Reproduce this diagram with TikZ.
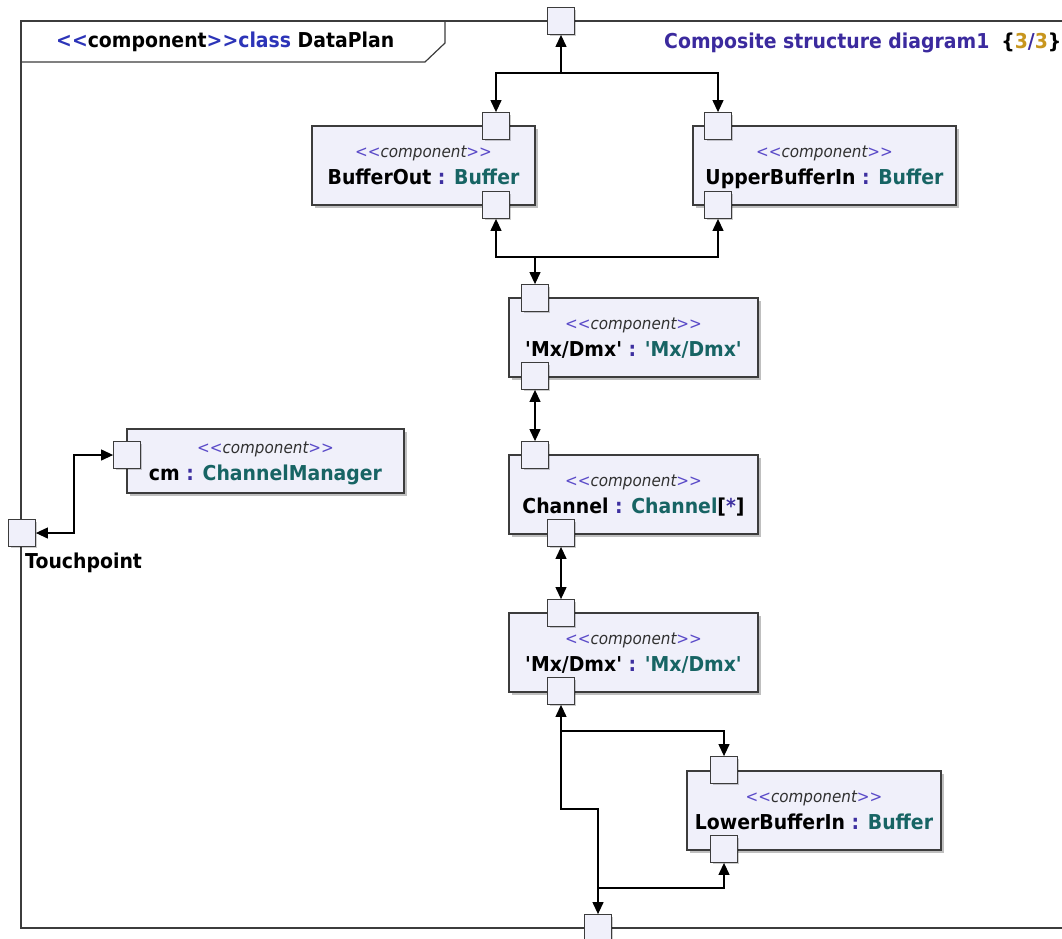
\documentclass[tikz,border=0pt]{standalone}
\usepackage{fontspec}
\setmainfont{DejaVu Sans}[Ligatures=TeXOff,FakeStretch=0.92]
\usepackage{xcolor}
\usetikzlibrary{arrows.meta,shadows}

\definecolor{linegray}{HTML}{3C3C3C}
\definecolor{boxfill}{HTML}{F0F0FA}
\definecolor{stpurple}{HTML}{5A4AC8}
\definecolor{stgray}{HTML}{303030}
\definecolor{colpurple}{HTML}{3D2FA0}
\definecolor{typeteal}{HTML}{176464}
\definecolor{ttlblue}{HTML}{2C34B8}
\definecolor{dgmpurple}{HTML}{3B2A9E}
\definecolor{numgold}{HTML}{C8961E}

\newcommand{\stereo}{{\fontsize{16.5}{27}\selectfont\itshape\textcolor{stpurple}{<<}\textcolor{stgray}{component}\textcolor{stpurple}{>>}}}
\newcommand{\cname}[2]{{\fontsize{20.5}{27}\selectfont\bfseries #1 \textcolor{colpurple}{:} \textcolor{typeteal}{#2}}}

\begin{document}
\begin{tikzpicture}[x=1pt,y=-1pt,
  comp/.style={draw=linegray,line width=1.3pt,fill=boxfill,minimum height=79pt,align=center,inner sep=0pt,
    text depth=0pt,font=\fontsize{16.5}{27}\selectfont,
    drop shadow={shadow xshift=3pt,shadow yshift=-3pt,fill=black,opacity=0.25}},
  port/.style={draw=linegray,line width=1.3pt,fill=boxfill,minimum size=26.5pt,inner sep=0pt,
    drop shadow={shadow xshift=2pt,shadow yshift=-2pt,fill=black,opacity=0.2}},
  arr/.style={line width=1.2pt,-{Triangle[length=12pt,width=11pt]}},
  arrs/.style={line width=1.2pt,{Triangle[length=12pt,width=11pt]}-{Triangle[length=12pt,width=11pt]}},
  frame/.style={line width=1.2pt,draw=linegray}]
\useasboundingbox (0,0) rectangle (1062,938);

% frame and title tab
\draw[frame] (1070,21) -- (21,21) -- (21,928) -- (1070,928);
\draw[frame] (21,62) -- (425,62) -- (445,43) -- (445,21);
\node[anchor=west,inner sep=0pt,font=\fontsize{20.5}{22}\selectfont\bfseries] (ttl) at (56,42)
  {\textcolor{ttlblue}{<<}component\textcolor{ttlblue}{>>class} DataPlan};
\node[anchor=west,inner sep=0pt,font=\fontsize{20.5}{22}\selectfont\bfseries] (dgm) at (664,43)
  {\textcolor{dgmpurple}{Composite structure diagram1}\hspace{12pt}\{\textcolor{numgold}{3}\textcolor{dgmpurple}{/}\textcolor{numgold}{3}\}};

% components
\node[comp,minimum width=223pt] (bufout) at (423.5,165.5) {\stereo\\\cname{BufferOut}{Buffer}};
\node[comp,minimum width=263pt] (upin) at (824.5,165.5) {\stereo\\\cname{UpperBufferIn}{Buffer}};
\node[comp,minimum width=249pt] (mxa) at (633.5,337.5) {\stereo\\\cname{'Mx/Dmx'}{'Mx/Dmx'}};
\node[comp,minimum width=249pt] (chan) at (633.5,494.5) {\stereo\\{\fontsize{20.5}{27}\selectfont\bfseries Channel \textcolor{colpurple}{:} \textcolor{typeteal}{Channel}[\textcolor{colpurple}{*}]}};
\node[comp,minimum width=249pt] (mxb) at (633.5,652.5) {\stereo\\\cname{'Mx/Dmx'}{'Mx/Dmx'}};
\node[comp,minimum width=254pt] (lowin) at (814,810.5) {\stereo\\\cname{LowerBufferIn}{Buffer}};
\node[comp,minimum width=277pt,minimum height=64pt] (cm) at (265.5,461) {\stereo\\\cname{cm}{ChannelManager}};

% ports
\node[port] (topP) at (561,21) {};
\node[port] (botP) at (598,928) {};
\node[port] (tp) at (22,533) {};
\node[anchor=west,inner sep=0pt,font=\fontsize{20.5}{22}\selectfont\bfseries] (tpl) at (25,563) {Touchpoint};
\node[port] (bufoutT) at (496,126) {};
\node[port] (bufoutB) at (496,205) {};
\node[port] (upinT) at (718,126) {};
\node[port] (upinB) at (718,205) {};
\node[port] (mxaT) at (535,298) {};
\node[port] (mxaB) at (535,376) {};
\node[port] (chanT) at (535,455) {};
\node[port] (chanB) at (561,533) {};
\node[port] (mxbT) at (561,613) {};
\node[port] (mxbB) at (561,691) {};
\node[port] (lowinT) at (724,770) {};
\node[port] (lowinB) at (724,849) {};
\node[port] (cmP) at (127,455) {};

% junctions
\coordinate (j1) at (561,73);
\coordinate (j2) at (535,257);
\coordinate (j3) at (561,731);
\coordinate (j4) at (598,888);
\coordinate (k1) at (561,809);
\coordinate (k2) at (74,533);

% connectors
\draw[arr] (j1) -- (topP.south);
\draw[arr] (j1) -| (bufoutT.north);
\draw[arr] (j1) -| (upinT.north);
\draw[arr] (j2) -| (bufoutB.south);
\draw[arr] (j2) -| (upinB.south);
\draw[arr] (j2) -- (mxaT.north);
\draw[arrs] (mxaB.south) -- (chanT.north);
\draw[arrs] (chanB.south) -- (mxbT.north);
\draw[arr] (j4) |- (k1) -- (mxbB.south);
\draw[arr] (j3) -| (lowinT.north);
\draw[arr] (j4) -| (lowinB.south);
\draw[arr] (j4) -- (botP.north);
\draw[arrs] (tp.east) -- (k2) |- (cmP.west);
\end{tikzpicture}
\end{document}
